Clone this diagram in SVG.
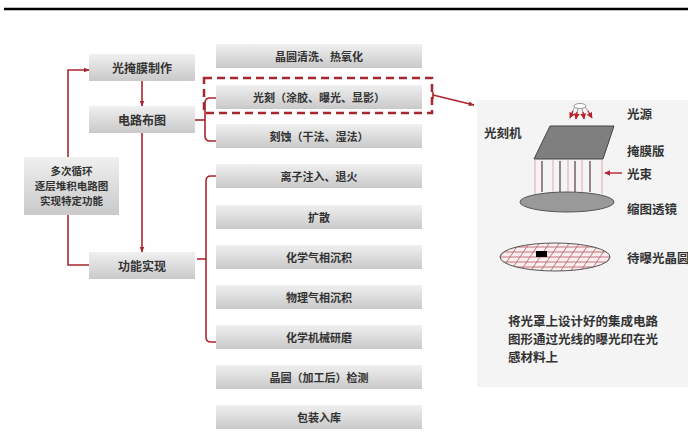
<svg xmlns="http://www.w3.org/2000/svg" width="688" height="436" viewBox="0 0 688 436">
  <defs>
    <linearGradient id="boxGrad" x1="0" y1="0" x2="0" y2="1">
      <stop offset="0" stop-color="#f0f0f0"/>
      <stop offset="1" stop-color="#c9c9c9"/>
    </linearGradient>
    <marker id="arrow" viewBox="0 0 10 10" refX="9" refY="5" markerWidth="6" markerHeight="6" orient="auto" markerUnits="userSpaceOnUse">
      <path d="M0,1 L10,5 L0,9 z" fill="#a8262d"/>
    </marker>
    <marker id="arrowSmall" viewBox="0 0 10 10" refX="9" refY="5" markerWidth="6" markerHeight="6" orient="auto" markerUnits="userSpaceOnUse">
      <path d="M0,0 L10,5 L0,10 z" fill="#b8232e"/>
    </marker>
    <clipPath id="waferClip">
      <ellipse cx="555" cy="257" rx="55" ry="14"/>
    </clipPath>
  </defs>
  <style>
    .box { fill: url(#boxGrad); }
    .lbl { font-family: "Noto Sans CJK SC", "Noto Sans", sans-serif; font-weight: bold; fill: #333; text-anchor: middle; dominant-baseline: central; }
    .l12 { font-size: 12px; }
    .l11 { font-size: 11px; }
    .l105 { font-size: 10.5px; }
    .conn { fill: none; stroke: #a8262d; stroke-width: 1.6; }
    .ptxt { font-family: "Noto Sans CJK SC", "Noto Sans", sans-serif; font-size: 12.5px; font-weight: bold; fill: #333; dominant-baseline: central; }
    .beamA { stroke: #e2b4bb; stroke-width: 1.2; }
    .beamB { stroke: #5b3a3d; stroke-width: 1.2; }
    .grid { stroke: #c0737b; stroke-width: 1; fill: none; }
  </style>

  <rect width="688" height="436" fill="#ffffff"/>
  <!-- header rule -->
  <line x1="4" y1="9" x2="688" y2="9" stroke="#000" stroke-width="2.5"/>

  <!-- main flow nodes -->
  <g id="mask-making">
    <rect class="box" x="89" y="54" width="106" height="27"/>
    <text class="lbl l12" x="142" y="67.5">光掩膜制作</text>
  </g>
  <g id="circuit-layout">
    <rect class="box" x="89" y="106" width="106" height="27"/>
    <text class="lbl l12" x="142" y="119.5">电路布图</text>
  </g>
  <g id="function-realize">
    <rect class="box" x="89" y="252" width="106" height="27"/>
    <text class="lbl l12" x="142" y="265.5">功能实现</text>
  </g>
  <g id="loop-note">
    <rect class="box" x="24" y="157" width="95" height="58"/>
    <text class="lbl l105" x="71.5" y="170.3">多次循环</text>
    <text class="lbl l105" x="71.5" y="185.6">逐层堆积电路图</text>
    <text class="lbl l105" x="71.5" y="200.9">实现特定功能</text>
  </g>

  <!-- process step nodes -->
  <g id="step-clean">
    <rect class="box" x="216" y="44" width="206" height="24"/>
    <text class="lbl l11" x="319" y="56">晶圆清洗、热氧化</text>
  </g>
  <g id="step-litho">
    <rect class="box" x="216" y="85" width="206" height="24"/>
    <text class="lbl l11" x="319" y="97">光刻（涂胶、曝光、显影）</text>
  </g>
  <g id="step-etch">
    <rect class="box" x="216" y="124" width="206" height="24"/>
    <text class="lbl l11" x="319" y="136">刻蚀（干法、湿法）</text>
  </g>
  <g id="step-implant">
    <rect class="box" x="216" y="164" width="206" height="24"/>
    <text class="lbl l11" x="319" y="176">离子注入、退火</text>
  </g>
  <g id="step-diffuse">
    <rect class="box" x="216" y="205" width="206" height="24"/>
    <text class="lbl l11" x="319" y="217">扩散</text>
  </g>
  <g id="step-cvd">
    <rect class="box" x="216" y="245" width="206" height="24"/>
    <text class="lbl l11" x="319" y="257">化学气相沉积</text>
  </g>
  <g id="step-pvd">
    <rect class="box" x="216" y="285" width="206" height="24"/>
    <text class="lbl l11" x="319" y="297">物理气相沉积</text>
  </g>
  <g id="step-cmp">
    <rect class="box" x="216" y="325" width="206" height="24"/>
    <text class="lbl l11" x="319" y="337">化学机械研磨</text>
  </g>
  <g id="step-inspect">
    <rect class="box" x="216" y="365" width="206" height="24"/>
    <text class="lbl l11" x="319" y="377">晶圆（加工后）检测</text>
  </g>
  <g id="step-package">
    <rect class="box" x="216" y="405" width="206" height="24"/>
    <text class="lbl l11" x="319" y="417">包装入库</text>
  </g>

  <!-- connectors -->
  <g id="connectors">
    <line class="conn" x1="142" y1="81" x2="142" y2="106" marker-end="url(#arrow)"/>
    <line class="conn" x1="142" y1="133" x2="142" y2="252" marker-end="url(#arrow)"/>
    <path class="conn" d="M68,157 V70 H89" marker-end="url(#arrow)"/>
    <path class="conn" d="M68,215 V265 H89"/>
    <!-- brace: circuit layout -> litho / etch -->
    <path class="conn" d="M216,98 H210 Q205,98 205,103 V136 Q205,141 210,141 H216"/>
    <line class="conn" x1="195" y1="120" x2="205" y2="120"/>
    <!-- brace: function realize -> implant ... CMP -->
    <path class="conn" d="M216,176 H211 Q206,176 206,181 V337 Q206,342 211,342 H216"/>
    <line class="conn" x1="197" y1="259" x2="206" y2="259"/>
    <!-- highlight around lithography -->
    <rect x="204" y="78" width="228" height="35" fill="none" stroke="#a8262d" stroke-width="2.5" stroke-dasharray="8 5"/>
    <line class="conn" x1="433" y1="92" x2="433" y2="99"/>
    <line class="conn" x1="433" y1="95" x2="474" y2="105" marker-end="url(#arrow)"/>
  </g>

  <!-- lithography machine illustration -->
  <g id="litho-panel">
    <rect x="477" y="100" width="211" height="287" fill="#f4f4f4"/>
    <text class="ptxt" x="484" y="132">光刻机</text>
    <text class="ptxt" x="627" y="113">光源</text>
    <text class="ptxt" x="627" y="150">掩膜版</text>
    <text class="ptxt" x="627" y="173">光束</text>
    <text class="ptxt" x="627" y="208">缩图透镜</text>
    <text class="ptxt" x="627" y="257">待曝光晶圆</text>

    <!-- light source -->
    <g stroke="#999" stroke-width="1">
      <line x1="575" y1="107" x2="572" y2="112"/>
      <line x1="578" y1="108" x2="577" y2="113"/>
      <line x1="582" y1="108" x2="583" y2="113"/>
      <line x1="585" y1="107" x2="589" y2="112"/>
    </g>
    <ellipse cx="580" cy="106" rx="6" ry="2.5" fill="#fff" stroke="#999" stroke-width="1"/>
    <g stroke="#b8232e" stroke-width="1.4">
      <line x1="573" y1="111" x2="570" y2="118" marker-end="url(#arrowSmall)"/>
      <line x1="577" y1="112" x2="576" y2="119" marker-end="url(#arrowSmall)"/>
      <line x1="583" y1="112" x2="584" y2="119" marker-end="url(#arrowSmall)"/>
      <line x1="588" y1="111" x2="592" y2="118" marker-end="url(#arrowSmall)"/>
    </g>

    <!-- mask -->
    <polygon points="550,126 614,126 603,159 534,159" fill="#7f7f7f" stroke="#444" stroke-width="1"/>

    <!-- beams -->
    <line class="beamA" x1="535" y1="160" x2="535" y2="194"/>
    <line class="beamB" x1="542" y1="161" x2="542" y2="192"/>
    <line class="beamA" x1="553" y1="160" x2="553" y2="194"/>
    <line class="beamB" x1="560" y1="161" x2="560" y2="192"/>
    <line class="beamA" x1="568" y1="160" x2="568" y2="194"/>
    <line class="beamB" x1="575" y1="161" x2="575" y2="192"/>
    <line class="beamA" x1="582" y1="160" x2="582" y2="194"/>
    <line class="beamB" x1="590" y1="161" x2="590" y2="192"/>
    <line class="beamA" x1="602" y1="160" x2="602" y2="194"/>
    <line x1="622" y1="173" x2="605" y2="173" stroke="#b8232e" stroke-width="1.4" marker-end="url(#arrowSmall)"/>

    <!-- reduction lens -->
    <ellipse cx="567" cy="202" rx="47" ry="10" fill="#999" stroke="#555" stroke-width="1"/>

    <!-- wafer -->
    <ellipse cx="555" cy="257" rx="55" ry="14" fill="#fbeff0"/>
    <g clip-path="url(#waferClip)" class="grid">
      <line x1="495" y1="247" x2="615" y2="247"/>
      <line x1="495" y1="252" x2="615" y2="252"/>
      <line x1="495" y1="257" x2="615" y2="257"/>
      <line x1="495" y1="262" x2="615" y2="262"/>
      <line x1="495" y1="267" x2="615" y2="267"/>
      <line x1="490" y1="272" x2="510" y2="242"/>
      <line x1="500" y1="272" x2="520" y2="242"/>
      <line x1="510" y1="272" x2="530" y2="242"/>
      <line x1="520" y1="272" x2="540" y2="242"/>
      <line x1="530" y1="272" x2="550" y2="242"/>
      <line x1="540" y1="272" x2="560" y2="242"/>
      <line x1="550" y1="272" x2="570" y2="242"/>
      <line x1="560" y1="272" x2="580" y2="242"/>
      <line x1="570" y1="272" x2="590" y2="242"/>
      <line x1="580" y1="272" x2="600" y2="242"/>
      <line x1="590" y1="272" x2="610" y2="242"/>
      <line x1="600" y1="272" x2="620" y2="242"/>
    </g>
    <ellipse cx="555" cy="257" rx="55" ry="14" fill="none" stroke="#555" stroke-width="1"/>
    <rect x="536" y="251" width="11" height="6" fill="#000"/>

    <text class="ptxt" x="508" y="320">将光罩上设计好的集成电路<tspan x="508" dy="18">图形通过光线的曝光印在光</tspan><tspan x="508" dy="18">感材料上</tspan></text>
  </g>
</svg>
